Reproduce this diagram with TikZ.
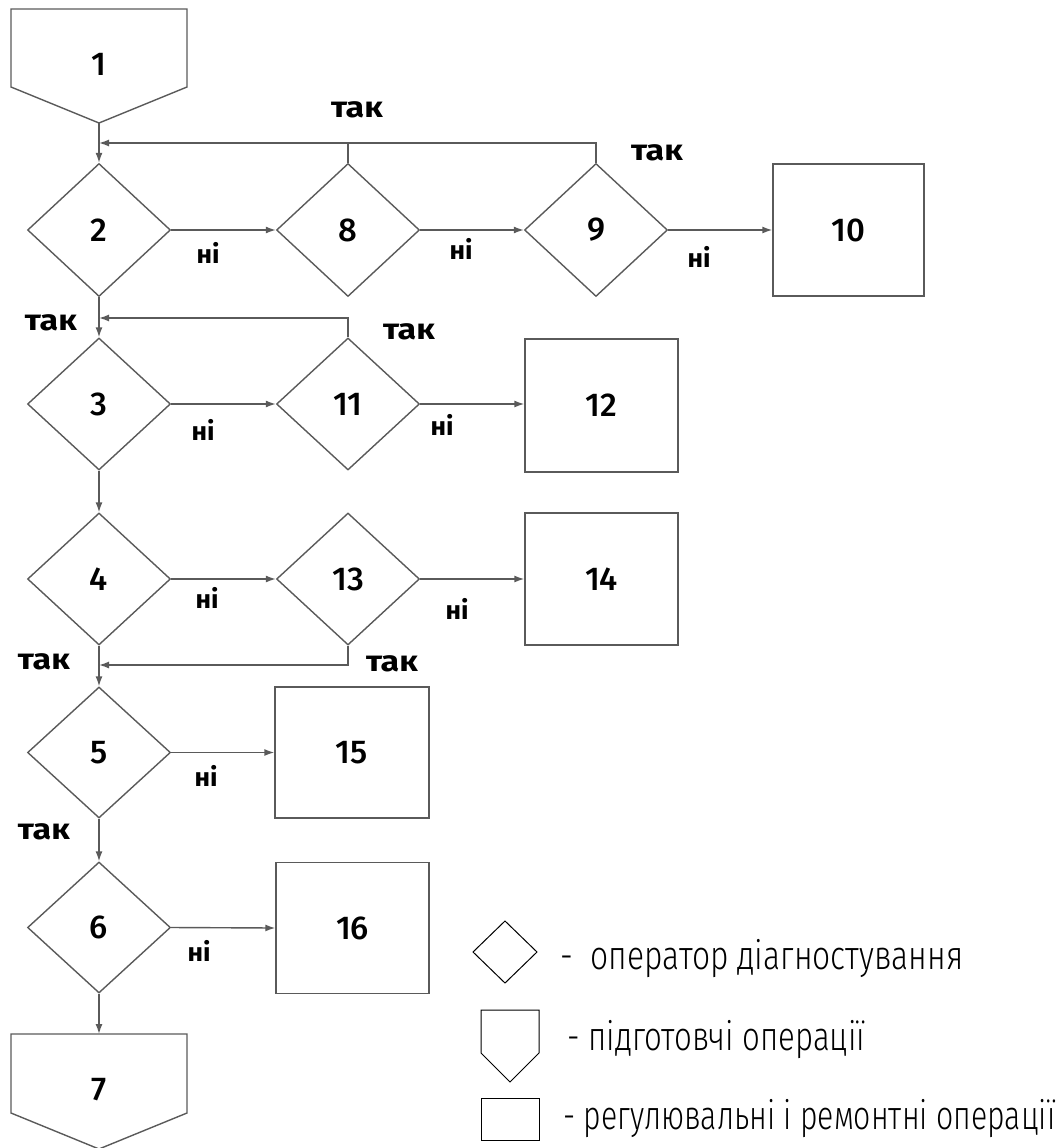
\documentclass[tikz,border=0pt]{standalone}
\usepackage{fontspec}
\setmainfont{Fira Sans}
\IfFontExistsTF{Fira Sans Light}{\newfontfamily\legfont{Fira Sans Light}}{\newfontfamily\legfont{Fira Sans}}
\IfFontExistsTF{Fira Sans Medium}{\newfontfamily\numfamily{Fira Sans Medium}}{\newfontfamily\numfamily{Fira Sans}}
\usetikzlibrary{shapes.geometric,arrows.meta,calc}
\newcommand\fitw[2]{\resizebox{#1}{\height}{#2}}
\definecolor{lncol}{HTML}{5A5A5A}
\begin{document}
\begin{tikzpicture}[x=1pt,y=-1pt,
  line/.style={draw=lncol, line width=1.4pt},
  arr/.style={line, -{Latex[length=10pt,width=7pt]}},
  dia/.style={diamond, line, minimum width=143pt, minimum height=133pt, inner sep=0pt, font=\numfamily\fontsize{33}{33}\selectfont},
  box/.style={rectangle, line, inner sep=0pt, font=\numfamily\fontsize{33}{33}\selectfont},
  numtxt/.style={inner sep=0pt, font=\numfamily\fontsize{33}{33}\selectfont},
  lbl/.style={inner sep=0pt, font=\bfseries\fontsize{29}{29}\selectfont},
  nlbl/.style={inner sep=0pt, font=\bfseries\fontsize{26}{26}\selectfont},
  leg/.style={inner sep=0pt, anchor=base west, font=\legfont\fontsize{40}{40}\selectfont},
  legshape/.style={draw=black, line width=1pt}
]
\useasboundingbox (0,0) rectangle (1064,1148);

% pentagon 1
\draw[line] (11,9) -- (187,9) -- (187,87) -- (99,123) coordinate (n1tip) -- (11,87) -- cycle;
\node[numtxt] (n1) at (99,64) {1};

% diamonds and boxes
\node[dia] (n2) at (99,230) {2};
\node[dia] (n8) at (348,230) {8};
\node[dia] (n9) at (596,230) {9};
\node[box, minimum width=151pt, minimum height=132pt] (n10) at (848.5,230) {10};

\node[dia, minimum height=132pt] (n3) at (99,404) {3};
\node[dia, minimum height=132pt] (n11) at (348,404) {11};
\node[box, minimum width=153pt, minimum height=133pt] (n12) at (601.5,405.5) {12};

\node[dia, minimum height=132pt] (n4) at (99,579) {4};
\node[dia, minimum height=132pt] (n13) at (348,579) {13};
\node[box, minimum width=153pt, minimum height=132pt] (n14) at (601.5,579) {14};

\node[dia, minimum height=131pt] (n5) at (99,752.5) {5};
\node[box, minimum width=154pt, minimum height=131pt] (n15) at (352,752.5) {15};

\node[dia, minimum height=131pt] (n6) at (99,927.5) {6};
\node[box, minimum width=153pt, minimum height=131pt] (n16) at (352.5,928) {16};

% pentagon 7
\draw[line] (11,1034) -- (187,1034) -- (187,1113) -- (99,1149) -- (11,1113) -- cycle;
\coordinate (n7top) at (99,1034);
\node[numtxt] (n7) at (99,1090) {7};

% vertical main line
\draw[arr] (n1tip) -- (n2.north);
\draw[arr] (n2.south) -- (n3.north);
\draw[arr] (n3.south) -- (n4.north);
\draw[arr] (n4.south) -- (n5.north);
\draw[arr] (n5.south) -- (n6.north);
\draw[arr] (n6.south) -- (n7top);

% horizontal "no" arrows
\draw[arr] (n2.east) -- (n8.west);
\draw[arr] (n8.east) -- (n9.west);
\draw[arr] (n9.east) -- (n10.west);
\draw[arr] (n3.east) -- (n11.west);
\draw[arr] (n11.east) -- (n12.west |- n11.east);
\draw[arr] (n4.east) -- (n13.west);
\draw[arr] (n13.east) -- (n14.west);
\draw[arr] (n5.east) -- (n15.west);
\draw[arr] (n6.east) -- (n16.west);

% feedback loops
\coordinate (j1) at (99,143);
\draw[arr] (n9.north) |- (j1);
\draw[line] (n8.north) -- (n8.north |- j1);
\coordinate (j2) at (99,318);
\draw[arr] (n11.north) |- (j2);
\coordinate (j3) at (99,665);
\draw[arr] (n13.south) |- (j3);

% labels
\node[lbl] (t1) at (357,110) {\fitw{52pt}{так}};
\node[lbl] (t2) at (657,153) {\fitw{52pt}{так}};
\node[lbl] (t3) at (51,323) {\fitw{52pt}{так}};
\node[lbl] (t4) at (409,332) {\fitw{52pt}{так}};
\node[lbl] (t5) at (44,662) {\fitw{52pt}{так}};
\node[lbl] (t6) at (392,664) {\fitw{52pt}{так}};
\node[lbl] (t7) at (44,832) {\fitw{52pt}{так}};

\node[nlbl] (h1) at (208,253) {\fitw{23pt}{ні}};
\node[nlbl] (h2) at (461,249) {\fitw{23pt}{ні}};
\node[nlbl] (h3) at (699,257) {\fitw{23pt}{ні}};
\node[nlbl] (h4) at (203,430) {\fitw{23pt}{ні}};
\node[nlbl] (h5) at (442,425) {\fitw{23pt}{ні}};
\node[nlbl] (h6) at (207,598) {\fitw{23pt}{ні}};
\node[nlbl] (h7) at (457,609) {\fitw{23pt}{ні}};
\node[nlbl] (h8) at (206,776) {\fitw{23pt}{ні}};
\node[nlbl] (h9) at (199,951) {\fitw{23pt}{ні}};

% legend
\draw[legshape] (473,952) -- (505,921) -- (537,952) -- (505,983) -- cycle;
\draw[legshape] (481,1010) -- (539,1010) -- (539,1053) -- (510,1082) -- (481,1053) -- cycle;
\draw[legshape] (481,1098) rectangle (539,1140);
\node[leg] (l1) at (560,969) {\fitw{403pt}{-\ \ оператор діагностування}};
\node[leg] (l2) at (567,1050) {\fitw{298pt}{- підготовчі операції}};
\node[leg] (l3) at (563,1129) {\fitw{492pt}{- регулювальні і ремонтні операції}};
\end{tikzpicture}
\end{document}
